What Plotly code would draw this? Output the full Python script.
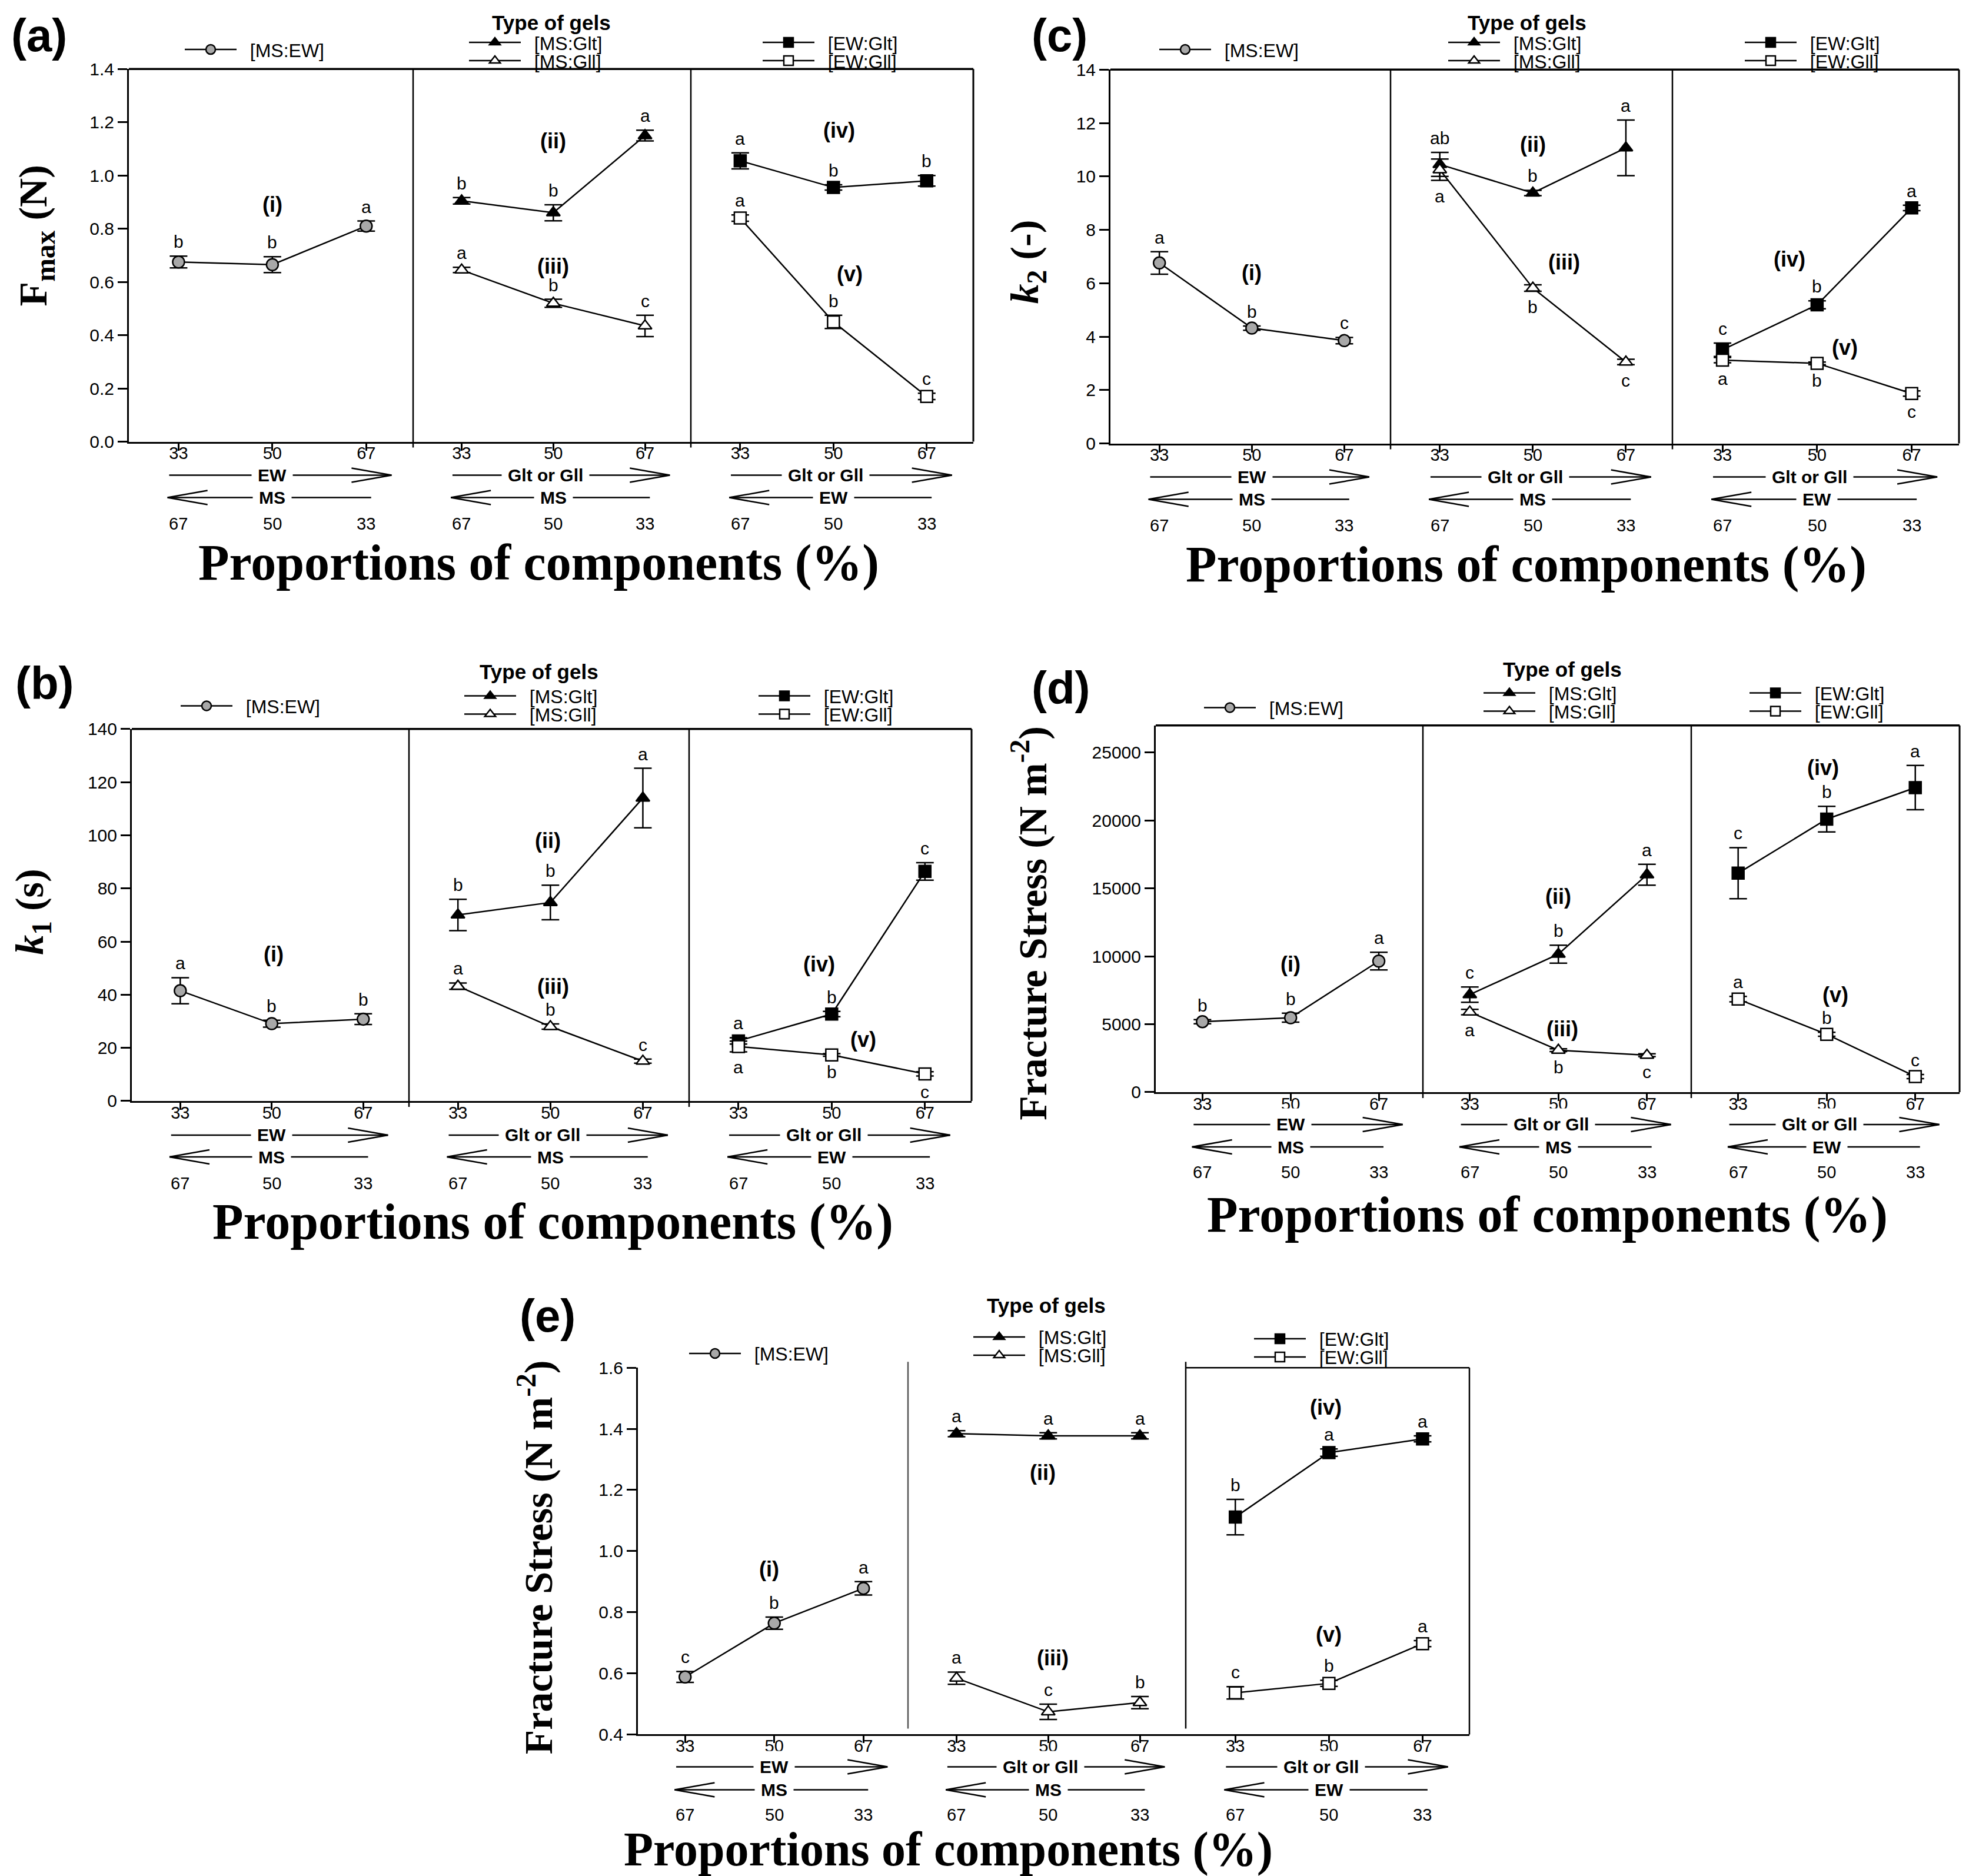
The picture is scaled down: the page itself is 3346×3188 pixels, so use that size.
import plotly.graph_objects as go

# ---------------- data ----------------
PROPORTIONS = [33, 50, 67]
TICK_TEXT = ["33", "50", "67"]
REVERSE_TEXT = ["67", "50", "33"]
SERIES_NAMES = ["[MS:EW]", "[MS:Glt]", "[MS:Gll]", "[EW:Glt]", "[EW:Gll]"]
ROMAN = ["(i)", "(ii)", "(iii)", "(iv)", "(v)"]

# (a) Fmax (N)
FMAX_MS_EW = [0.675, 0.665, 0.810]
FMAX_MS_EW_SD = [0.022, 0.030, 0.019]
FMAX_MS_EW_SIG = ["b", "b", "a"]
FMAX_MS_GLT = [0.905, 0.860, 1.150]
FMAX_MS_GLT_SD = [0.012, 0.030, 0.020]
FMAX_MS_GLT_SIG = ["b", "b", "a"]
FMAX_MS_GLL = [0.645, 0.520, 0.435]
FMAX_MS_GLL_SD = [0.010, 0.015, 0.040]
FMAX_MS_GLL_SIG = ["a", "b", "c"]
FMAX_EW_GLT = [1.055, 0.955, 0.980]
FMAX_EW_GLT_SD = [0.030, 0.010, 0.020]
FMAX_EW_GLT_SIG = ["a", "b", "b"]
FMAX_EW_GLL = [0.840, 0.450, 0.170]
FMAX_EW_GLL_SD = [0.012, 0.025, 0.012]
FMAX_EW_GLL_SIG = ["a", "b", "c"]

# (b) k1 (s)
K1_MS_EW = [41.5, 29.1, 30.8]
K1_MS_EW_SD = [4.9, 1.3, 2.0]
K1_MS_EW_SIG = ["a", "b", "b"]
K1_MS_GLT = [70.0, 74.7, 114.0]
K1_MS_GLT_SD = [5.9, 6.5, 11.2]
K1_MS_GLT_SIG = ["b", "b", "a"]
K1_MS_GLL = [43.2, 28.0, 15.0]
K1_MS_GLL_SD = [1.2, 1.0, 0.8]
K1_MS_GLL_SIG = ["a", "b", "c"]
K1_EW_GLT = [22.6, 32.7, 86.4]
K1_EW_GLT_SD = [1.2, 1.0, 3.3]
K1_EW_GLT_SIG = ["a", "b", "c"]
K1_EW_GLL = [20.5, 17.3, 10.2]
K1_EW_GLL_SD = [2.0, 0.5, 0.8]
K1_EW_GLL_SIG = ["a", "b", "c"]

# (c) k2 (-)
K2_MS_EW = [6.76, 4.32, 3.85]
K2_MS_EW_SD = [0.42, 0.08, 0.12]
K2_MS_EW_SIG = ["a", "b", "c"]
K2_MS_GLT = [10.45, 9.38, 11.07]
K2_MS_GLT_SD = [0.45, 0.10, 1.04]
K2_MS_GLT_SIG = ["ab", "b", "a"]
K2_MS_GLL = [10.25, 5.82, 3.05]
K2_MS_GLL_SD = [0.40, 0.12, 0.10]
K2_MS_GLL_SIG = ["a", "b", "c"]
K2_EW_GLT = [3.51, 5.19, 8.82]
K2_EW_GLT_SD = [0.25, 0.15, 0.10]
K2_EW_GLT_SIG = ["c", "b", "a"]
K2_EW_GLL = [3.12, 3.00, 1.87]
K2_EW_GLL_SD = [0.10, 0.05, 0.10]
K2_EW_GLL_SIG = ["a", "b", "c"]

# (d) Fracture stress (N m-2)
FS_MS_EW = [5190, 5480, 9650]
FS_MS_EW_SD = [150, 330, 650]
FS_MS_EW_SIG = ["b", "b", "a"]
FS_MS_GLT = [7180, 10160, 16010]
FS_MS_GLT_SD = [560, 660, 770]
FS_MS_GLT_SIG = ["c", "b", "a"]
FS_MS_GLL = [5900, 3090, 2720]
FS_MS_GLL_SD = [200, 100, 100]
FS_MS_GLL_SIG = ["a", "b", "c"]
FS_EW_GLT = [16120, 20100, 22420]
FS_EW_GLT_SD = [1880, 940, 1630]
FS_EW_GLT_SIG = ["c", "b", "a"]
FS_EW_GLL = [6850, 4260, 1150]
FS_EW_GLL_SD = [200, 150, 150]
FS_EW_GLL_SIG = ["a", "b", "c"]

# (e) Fracture stress (N m-2)
FSE_MS_EW = [0.588, 0.764, 0.878]
FSE_MS_EW_SD = [0.018, 0.020, 0.022]
FSE_MS_EW_SIG = ["c", "b", "a"]
FSE_MS_GLT = [1.384, 1.377, 1.377]
FSE_MS_GLT_SD = [0.010, 0.010, 0.010]
FSE_MS_GLT_SIG = ["a", "a", "a"]
FSE_MS_GLL = [0.584, 0.474, 0.504]
FSE_MS_GLL_SD = [0.020, 0.025, 0.020]
FSE_MS_GLL_SIG = ["a", "c", "b"]
FSE_EW_GLT = [1.111, 1.322, 1.367]
FSE_EW_GLT_SD = [0.058, 0.012, 0.010]
FSE_EW_GLT_SIG = ["b", "a", "a"]
FSE_EW_GLL = [0.536, 0.567, 0.697]
FSE_EW_GLL_SD = [0.020, 0.010, 0.010]
FSE_EW_GLL_SIG = ["c", "b", "a"]

# ---------------- layout helpers ----------------
W, H = 3330, 3200
XOFF = 8
KY, CY = 0.989, 25.0   # vertical mapping of the photographed page


def px(X):
    return (X - XOFF) / W


def py(Y):
    return 1 - (Y / KY - CY) / H


FONT = "Arial, Liberation Sans, sans-serif"
SERIF = "Times New Roman, Liberation Serif, serif"
XR = [24, 75.5]
NB = "\u00a0\u00a0"

MARKERS = [
    dict(symbol="circle", color="#a8a8a8"),
    dict(symbol="triangle-up", color="black"),
    dict(symbol="triangle-up", color="white"),
    dict(symbol="square", color="black"),
    dict(symbol="square", color="white"),
]
SECTION_OF = [0, 1, 1, 2, 2]
ROW1_TEXT = ["EW", "Glt or Gll", "Glt or Gll"]
ROW2_TEXT = ["MS", "MS", "EW"]

PANELS = [
    dict(tag="(a)", L=219, S1=702, S2=1174, R=1654, top=117, bottom=750,
         yr=[0, 1.4], dtick=0.2, fmt=".1f",
         ytitle="<b>F<sub>max</sub> (N)</b>", yt=(60, 400), xt=915, tagpos=(67, 60),
         tog=(937, 38), rows=(57, 95, 139, 205), xts=86,
         leg=[(317, 84), (800, 72), (800, 103), (1299, 72), (1299, 103)], full_top=True,
         series=[(FMAX_MS_EW, FMAX_MS_EW_SD, FMAX_MS_EW_SIG),
                 (FMAX_MS_GLT, FMAX_MS_GLT_SD, FMAX_MS_GLT_SIG),
                 (FMAX_MS_GLL, FMAX_MS_GLL_SD, FMAX_MS_GLL_SIG),
                 (FMAX_EW_GLT, FMAX_EW_GLT_SD, FMAX_EW_GLT_SIG),
                 (FMAX_EW_GLL, FMAX_EW_GLL_SD, FMAX_EW_GLL_SIG)],
         below=[False, False, False, False, False],
         roman=[(50, 0.89), (50, 1.13), (50, 0.66), (51, 1.17), (53, 0.63)]),
    dict(tag="(c)", L=1887, S1=2363, S2=2842, R=3329, top=118, bottom=753,
         yr=[0, 14], dtick=2, fmt="d",
         ytitle="<b><i>k</i><sub>2</sub> (-)</b>", yt=(1745, 445), xt=2593, tagpos=(1800, 60),
         tog=(2595, 38), rows=(57, 95, 139, 205), xts=86,
         leg=[(1973, 84), (2464, 72), (2464, 103), (2968, 72), (2968, 103)], full_top=True,
         series=[(K2_MS_EW, K2_MS_EW_SD, K2_MS_EW_SIG),
                 (K2_MS_GLT, K2_MS_GLT_SD, K2_MS_GLT_SIG),
                 (K2_MS_GLL, K2_MS_GLL_SD, K2_MS_GLL_SIG),
                 (K2_EW_GLT, K2_EW_GLT_SD, K2_EW_GLT_SIG),
                 (K2_EW_GLL, K2_EW_GLL_SD, K2_EW_GLL_SIG)],
         below=[False, False, True, False, True],
         roman=[(50, 6.4), (50, 11.2), (55.7, 6.8), (45, 6.9), (55, 3.6)]),
    dict(tag="(b)", L=224, S1=695, S2=1171, R=1651, top=1238, bottom=1870,
         yr=[0, 140], dtick=20, fmt="d",
         ytitle="<b><i>k</i><sub>1</sub> (s)</b>", yt=(55, 1549), xt=939, tagpos=(76, 1160),
         tog=(916, 1141), rows=(58, 95, 140, 205), xts=86,
         leg=[(310, 1199), (792, 1182), (792, 1213), (1292, 1182), (1292, 1213)], full_top=True,
         series=[(K1_MS_EW, K1_MS_EW_SD, K1_MS_EW_SIG),
                 (K1_MS_GLT, K1_MS_GLT_SD, K1_MS_GLT_SIG),
                 (K1_MS_GLL, K1_MS_GLL_SD, K1_MS_GLL_SIG),
                 (K1_EW_GLT, K1_EW_GLT_SD, K1_EW_GLT_SIG),
                 (K1_EW_GLL, K1_EW_GLL_SD, K1_EW_GLL_SIG)],
         below=[False, False, False, False, True],
         roman=[(50.4, 55.3), (49.5, 98), (50.5, 43), (47.7, 51.4), (55.8, 23.1)]),
    dict(tag="(d)", L=1964, S1=2418, S2=2874, R=3330, top=1232, bottom=1855,
         yr=[0, 27000], dtick=5000, fmt="d",
         ytitle="<b>Fracture Stress (N m<sup>-2</sup>)</b>", yt=(1750, 1568), xt=2629,
         tagpos=(1803, 1168), tog=(2655, 1137), rows=(55, 93, 136, 208), xts=86,
         leg=[(2049, 1202), (2524, 1177), (2524, 1208), (2976, 1177), (2976, 1208)], full_top=True,
         series=[(FS_MS_EW, FS_MS_EW_SD, FS_MS_EW_SIG),
                 (FS_MS_GLT, FS_MS_GLT_SD, FS_MS_GLT_SIG),
                 (FS_MS_GLL, FS_MS_GLL_SD, FS_MS_GLL_SIG),
                 (FS_EW_GLT, FS_EW_GLT_SD, FS_EW_GLT_SIG),
                 (FS_EW_GLL, FS_EW_GLL_SD, FS_EW_GLL_SIG)],
         below=[False, False, True, False, False],
         roman=[(50, 9400), (50, 14400), (50.8, 4640), (49.3, 23900), (51.7, 7180)]),
    dict(tag="(e)", L=1084, S1=1543, S2=2015, R=2497, top=2323, bottom=2946,
         yr=[0.4, 1.6], dtick=0.2, fmt=".1f",
         ytitle="<b>Fracture Stress (N m<sup>-2</sup>)</b>", yt=(911, 2645), xt=1611,
         tagpos=(930, 2235), tog=(1778, 2217), rows=(55, 94, 137, 195), xts=82,
         leg=[(1174, 2299), (1657, 2271), (1657, 2302), (2134, 2274), (2134, 2305)], full_top=False,
         series=[(FSE_MS_EW, FSE_MS_EW_SD, FSE_MS_EW_SIG),
                 (FSE_MS_GLT, FSE_MS_GLT_SD, FSE_MS_GLT_SIG),
                 (FSE_MS_GLL, FSE_MS_GLL_SD, FSE_MS_GLL_SIG),
                 (FSE_EW_GLT, FSE_EW_GLT_SD, FSE_EW_GLT_SIG),
                 (FSE_EW_GLL, FSE_EW_GLL_SD, FSE_EW_GLL_SIG)],
         below=[False, False, False, False, False],
         roman=[(49, 0.94), (49, 1.256), (50.8, 0.65), (49.4, 1.47), (50, 0.727)]),
]

fig = go.Figure()
layout = dict(width=W, height=H, margin=dict(l=0, r=0, t=0, b=0),
              paper_bgcolor="white", plot_bgcolor="white", showlegend=True)
shapes = []
annotations = []


def line_px(x0, y0, x1, y1, width=2.5, color="black"):
    shapes.append(dict(type="line", xref="paper", yref="paper",
                       x0=px(x0), x1=px(x1), y0=py(y0), y1=py(y1),
                       line=dict(color=color, width=width)))


def text_px(x, y, text, size, family=FONT, angle=0, bg=None, xanchor="center", pad=1):
    a = dict(x=px(x), y=py(y), xref="paper", yref="paper", text=text, showarrow=False,
             xanchor=xanchor, yanchor="middle", textangle=angle, borderpad=pad,
             font=dict(family=family, size=size, color="black"))
    if bg:
        a["bgcolor"] = bg
    annotations.append(a)


for p, P in enumerate(PANELS):
    yid = "y" if p == 0 else f"y{p + 1}"
    yname = "yaxis" if p == 0 else f"yaxis{p + 1}"
    bounds = [(P["L"], P["S1"]), (P["S1"], P["S2"]), (P["S2"], P["R"])]
    xids = []
    for s in range(3):
        n = p * 3 + s + 1
        xid = "x" if n == 1 else f"x{n}"
        xname = "xaxis" if n == 1 else f"xaxis{n}"
        xids.append(xid)
        layout[xname] = dict(domain=[px(bounds[s][0]), px(bounds[s][1])], range=XR,
                             anchor=yid, tickmode="array", tickvals=PROPORTIONS,
                             ticktext=TICK_TEXT, ticks="outside", ticklen=12, tickwidth=2.5,
                             tickcolor="black", showline=True, linewidth=3, linecolor="black",
                             showgrid=False, zeroline=False, fixedrange=True,
                             ticklabelstandoff=-20,
                             tickfont=dict(family=FONT, size=29, color="black"))
    layout[yname] = dict(domain=[py(P["bottom"]), py(P["top"])], range=P["yr"],
                         anchor=xids[0], tick0=P["yr"][0], dtick=P["dtick"],
                         tickformat=P["fmt"], ticks="outside", ticklen=16, tickwidth=2.5,
                         tickcolor="black", showline=True, linewidth=3, linecolor="black",
                         showgrid=False, zeroline=False, fixedrange=True,
                         tickfont=dict(family=FONT, size=30, color="black"))

    # one legend per series so that rows can be spaced as in the original
    for k in range(5):
        lidx = 5 * p + k
        lname = "legend" if lidx == 0 else f"legend{lidx + 1}"
        sxp, syp = P["leg"][k]
        layout[lname] = dict(x=px(sxp - 8), y=py(syp), xanchor="left", yanchor="middle",
                             bgcolor="rgba(0,0,0,0)", borderwidth=0, itemwidth=88,
                             tracegroupgap=0, traceorder="normal",
                             font=dict(family=FONT, size=32, color="black"))

    # traces
    for k, (vals, sd, sig) in enumerate(P["series"]):
        s = SECTION_OF[k]
        lidx = 5 * p + k
        lname = "legend" if lidx == 0 else f"legend{lidx + 1}"
        mk = MARKERS[k]
        fig.add_trace(go.Scatter(
            x=PROPORTIONS, y=vals, name=NB + SERIES_NAMES[k], mode="lines+markers",
            xaxis=xids[s], yaxis=yid, legend=lname, showlegend=True, cliponaxis=False,
            line=dict(color="black", width=2.5),
            marker=dict(symbol=mk["symbol"], color=mk["color"], size=20,
                        line=dict(color="black", width=2.5)),
            error_y=dict(type="data", array=sd, visible=True, color="black",
                         thickness=2.5, width=15)))
        # significance letters
        for xi, v, e, lt in zip(PROPORTIONS, vals, sd, sig):
            if P["below"][k]:
                annotations.append(dict(x=xi, y=v - e, xref=xids[s], yref=yid, text=lt,
                                        showarrow=False, yanchor="top", yshift=-8,
                                        font=dict(family=FONT, size=30, color="black")))
            else:
                annotations.append(dict(x=xi, y=v + e, xref=xids[s], yref=yid, text=lt,
                                        showarrow=False, yanchor="bottom", yshift=6,
                                        font=dict(family=FONT, size=30, color="black")))
        rx, ry = P["roman"][k]
        annotations.append(dict(x=rx, y=ry, xref=xids[s], yref=yid, text="<b>" + ROMAN[k] + "</b>",
                                showarrow=False, font=dict(family=FONT, size=36, color="black")))

    # frame: top, right, separators
    L, S1, S2, R, T, B = P["L"], P["S1"], P["S2"], P["R"], P["top"], P["bottom"]
    if P["full_top"]:
        line_px(L, T, R, T, width=3.5)
        line_px(R, T, R, B, width=3)
        line_px(S1, T, S1, B + 10, width=2.5)
        line_px(S2, T, S2, B + 10, width=2.5)
    else:
        line_px(S2, T, R, T, width=2.5)
        line_px(R, T, R, B, width=2.5)
        line_px(S1, T - 10, S1, B - 10, width=2.5, color="#555555")
        line_px(S2, T - 10, S2, B - 10, width=2.5)

    # bottom composition rows
    o1, o2, on, ot = P["rows"]
    r1, r2, rn, rt = B + o1, B + o2, B + on, B + ot
    for s in range(3):
        lo, hi = bounds[s]

        def sx(v, lo=lo, hi=hi):
            return lo + (v - XR[0]) / (XR[1] - XR[0]) * (hi - lo)

        # row 1: right arrow
        x0, tip = sx(31.3), sx(71.6)
        line_px(x0, r1, tip, r1, width=2.5)
        line_px(tip - 68, r1 - 12, tip, r1, width=2.5)
        line_px(tip - 68, r1 + 12, tip, r1, width=2.5)
        text_px(sx(50 if s == 0 else 48.6), r1, "<b>" + ROW1_TEXT[s] + "</b>", 30, bg="white", pad=10)
        # row 2: left arrow
        tip2, x1 = sx(31.0), sx(67.9)
        line_px(tip2, r2, x1, r2, width=2.5)
        line_px(tip2 + 68, r2 - 12, tip2, r2, width=2.5)
        line_px(tip2 + 68, r2 + 12, tip2, r2, width=2.5)
        text_px(sx(50), r2, "<b>" + ROW2_TEXT[s] + "</b>", 30, bg="white", pad=10)
        # numbers row
        for v, t in zip(PROPORTIONS, REVERSE_TEXT):
            text_px(sx(v), rn, t, 29)

    text_px(P["xt"], rt, "<b>Proportions of components (%)</b>", P["xts"], family=SERIF)
    text_px(P["yt"][0], P["yt"][1], P["ytitle"], 68, family=SERIF, angle=-90)
    text_px(P["tagpos"][0], P["tagpos"][1], "<b>" + P["tag"] + "</b>", 78)
    text_px(P["tog"][0], P["tog"][1], "<b>Type of gels</b>", 35)

layout["shapes"] = shapes
layout["annotations"] = annotations
fig.update_layout(**layout)
fig.write_html("out.html")
